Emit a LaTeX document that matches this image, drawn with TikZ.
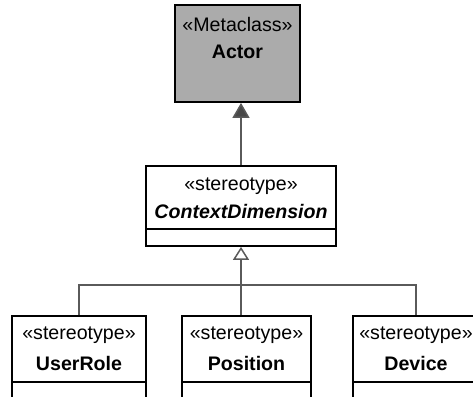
\documentclass[tikz,border=0pt]{standalone}
\usepackage{fontspec}
\setmainfont{Liberation Sans}
\usetikzlibrary{positioning,arrows.meta}

\definecolor{metagray}{HTML}{ABABAB}
\definecolor{linkgray}{HTML}{5A5A5A}

\tikzset{
  classbox/.style={draw=black,line width=1.8pt,inner sep=0pt},
  umltext/.style={inner sep=0pt,anchor=base,font=\fontsize{19.6pt}{24pt}\selectfont},
  umlname/.style={umltext,font=\fontsize{19.6pt}{24pt}\selectfont\bfseries},
  link/.style={draw=linkgray,line width=1.5pt},
  extends/.style={link,-{Triangle[length=15pt,width=17pt,fill=linkgray!80!black]}},
  generalizes/.style={link,-{Triangle[open,length=13pt,width=16pt,fill=white]}}
}

\begin{document}
\begin{tikzpicture}[x=1pt,y=-1pt]
\useasboundingbox (0,0) rectangle (473,396);
\clip (0,0) rectangle (473,396);

% metaclass
\node[classbox,fill=metagray,minimum width=125pt,minimum height=97pt] (actor) at (237.5,53.5) {};
\node[umltext] (actorst) at ([yshift=-27pt]actor.north) {«Metaclass»};
\node[umlname] (actorname) at ([yshift=-54pt]actor.north) {Actor};

% stereotype
\node[classbox,fill=white,minimum width=190pt,minimum height=80pt] (context) at (241,206) {};
\node[umltext] (contextst) at ([yshift=-25pt]context.north) {«stereotype»};
\node[umlname,font=\fontsize{19.6pt}{24pt}\selectfont\bfseries\itshape] (contextname) at ([yshift=-53pt]context.north) {ContextDimension};
\draw[classbox] ([yshift=-64pt]context.north west) -- ([yshift=-64pt]context.north east);

% sub stereotypes
\node[classbox,minimum width=134pt,minimum height=110pt,anchor=north] (userrole) at (79,315) {};
\node[classbox,minimum width=129pt,minimum height=110pt,anchor=north] (position) at (246.5,315) {};
\node[classbox,minimum width=126pt,minimum height=110pt,anchor=north] (device) at (416,315) {};

\node[umltext] (userrolest) at ([yshift=-24pt]userrole.north) {«stereotype»};
\node[umlname] (userrolename) at ([yshift=-55pt]userrole.north) {UserRole};
\node[umltext] (positionst) at ([yshift=-24pt]position.north) {«stereotype»};
\node[umlname] (positionname) at ([yshift=-55pt]position.north) {Position};
\node[umltext] (devicest) at ([yshift=-24pt]device.north) {«stereotype»};
\node[umlname] (devicename) at ([yshift=-55pt]device.north) {Device};

\draw[classbox] ([yshift=-67pt]userrole.north west) -- ([yshift=-67pt]userrole.north east);
\draw[classbox] ([yshift=-67pt]position.north west) -- ([yshift=-67pt]position.north east);
\draw[classbox] ([yshift=-67pt]device.north west) -- ([yshift=-67pt]device.north east);

% connectors
\draw[extends] (context.north) -- (context.north |- actor.south);
\coordinate (fork) at (241,285);
\draw[link] (userrole.north) |- (fork) -| (device.north);
\draw[link] (fork) -- (fork |- position.north);
\draw[generalizes] (fork) -- (context.south);
\end{tikzpicture}
\end{document}
